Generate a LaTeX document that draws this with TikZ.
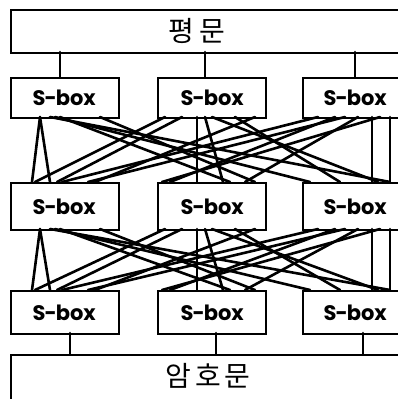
\documentclass[tikz,border=0pt]{standalone}
\usepackage{fontspec}
\usetikzlibrary{calc}
\newfontfamily\sbfont{Poppins}
\newfontfamily\krfont{Noto Sans CJK KR}
\tikzset{
  sbox/.style={draw, line width=2.4pt, minimum width=108pt, minimum height=41pt, anchor=north west, inner sep=0pt},
  sblabel/.style={font=\sbfont\bfseries\fontsize{21}{23}\selectfont, inner sep=0pt},
  krlabel/.style={font=\krfont\fontsize{28}{30}\selectfont, inner sep=0pt},
  bigbox/.style={draw, line width=2.4pt, minimum width=400pt, minimum height=43pt, anchor=north west, inner sep=0pt},
  wire/.style={line width=2.6pt, line cap=round},
}
\begin{document}
\begin{tikzpicture}[x=1pt,y=-1pt]
\useasboundingbox (0,0) rectangle (398,399);
\clip (0,0) rectangle (398,399);
% big boxes
\node[bigbox] (pt) at (10,9) {};
\node[krlabel] (ptl) at (197,31) {평\hspace{6pt}문};
\node[bigbox, minimum height=50pt] (ct) at (10,354) {};
\node[krlabel] (ctl) at (208,376) {암\hspace{4pt}호\hspace{4pt}문};
% s-boxes
\foreach \r/\y/\h in {1/77/40,2/182/47,3/290/43}{
  \node[sbox, minimum height=\h pt] (s\r1) at (10,\y) {};
  \node[sbox, minimum height=\h pt] (s\r2) at (157,\y) {};
  \node[sbox, minimum height=\h pt] (s\r3) at (302,\y) {};
  \node[sblabel] (t\r1) at ($(s\r1.center)+(-1,0)$) {S\kern-1pt-\kern-1ptbox};
  \node[sblabel] (t\r2) at ($(s\r2.center)+(0,0)$) {S\kern-1pt-\kern-1ptbox};
  \node[sblabel] (t\r3) at ($(s\r3.center)+(-2,0)$) {S\kern-1pt-\kern-1ptbox};
}
% input / output connectors
\foreach \x in {60,205,355}{
  \draw[wire] (\x,52) -- (\x,77);
}
\foreach \x in {70,216,363}{
  \draw[wire] (\x,333) -- (\x,354);
}
% permutation wires
\foreach \yt/\yb in {117/182,229/290}{
  \foreach \a/\b in {40/32,40/50,50/390,55/310,60/230,100/255,
                     165/35,182/57,197/197,205/223,212/378,235/340,255/95,
                     318/62,345/88,335/170,358/245,372/372,390/390,380/162}{
    \draw[wire] (\a,\yt) -- (\b,\yb);
  }
}
\end{tikzpicture}
\end{document}
